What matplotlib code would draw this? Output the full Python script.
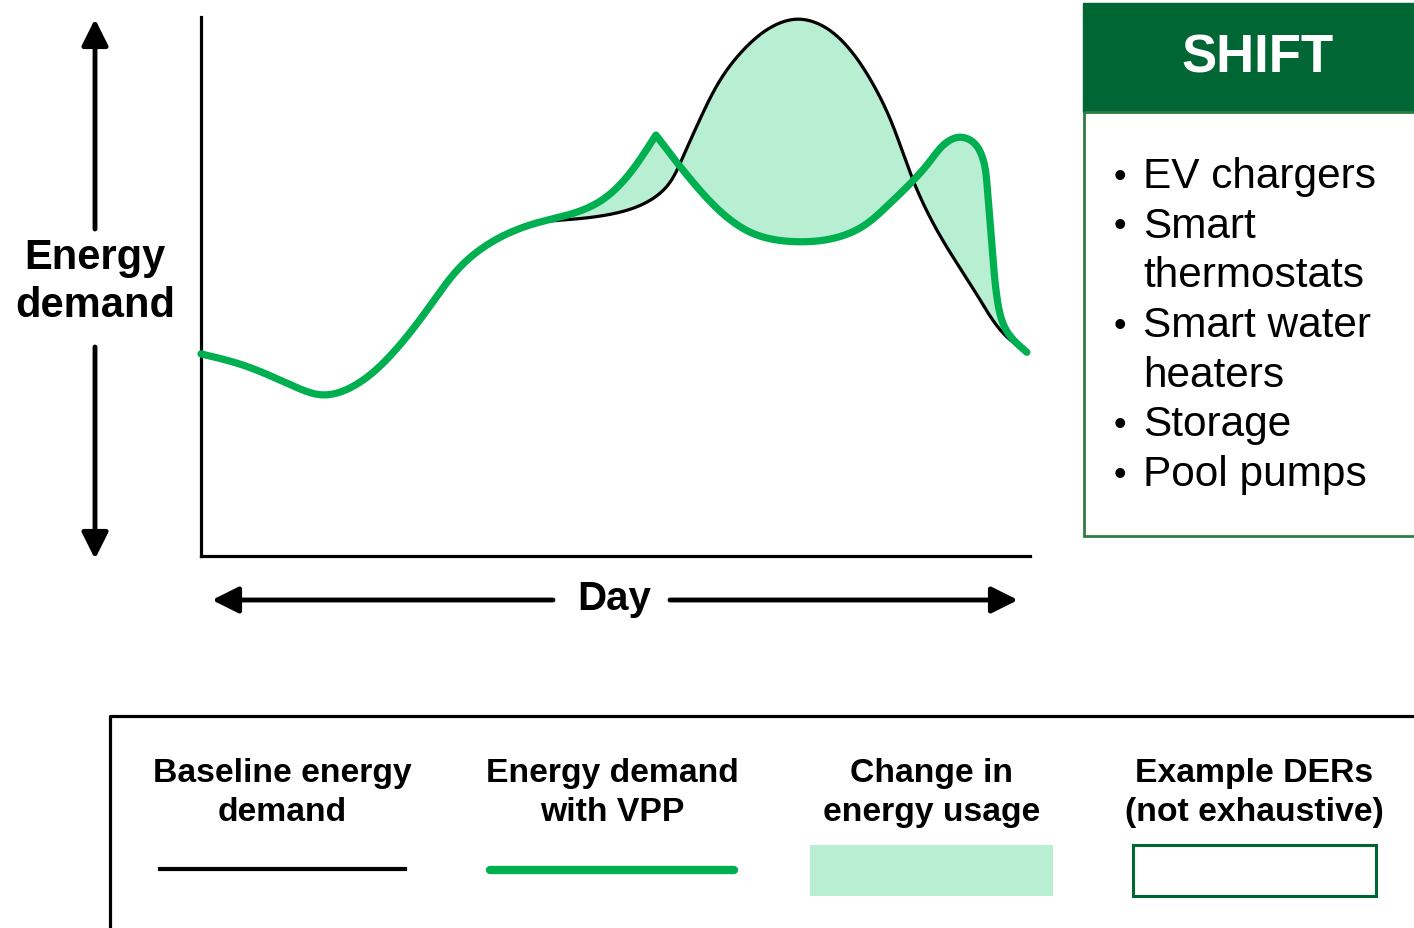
import numpy as np
import matplotlib
matplotlib.use('Agg')
import matplotlib.pyplot as plt
from matplotlib.patches import Rectangle

plt.rcParams['font.family'] = ['Liberation Sans', 'DejaVu Sans']

# curve points (hour of day, demand in % of axis height)
baseline_hours = [0.0, 1.27, 2.72, 3.50, 4.66, 5.47, 6.63, 7.56, 8.51, 9.67, 10.60, 11.93,
                  12.80, 13.49, 13.93, 14.45, 15.11, 15.81, 16.56, 17.28, 18.01, 18.70,
                  19.37, 19.95, 20.61, 21.48, 22.47, 23.34, 23.91]
baseline_demand = [37.5, 35.3, 31.4, 29.9, 32.5, 37.1, 46.4, 54.0, 58.6, 61.7, 62.4, 63.5,
                   65.3, 68.6, 73.7, 81.1, 89.1, 94.6, 98.3, 99.6, 98.3, 94.6,
                   88.5, 81.1, 69.8, 58.5, 48.4, 40.6, 37.8]

vpp_hours = [0.0, 1.27, 2.72, 3.50, 4.66, 5.47, 6.63, 7.56, 8.51, 9.67, 10.97, 11.55,
             12.51, 12.95, 13.17, 13.42, 13.78, 14.45, 15.40, 15.89, 17.34, 18.21, 19.17,
             19.86, 20.58, 21.11, 21.60, 21.97, 22.35, 22.61, 22.76, 22.84, 22.93, 23.05,
             23.34, 23.91]
vpp_demand = [37.5, 35.3, 31.4, 29.9, 32.5, 37.1, 46.4, 54.0, 58.6, 61.7, 64.0, 65.8,
              71.8, 75.9, 78.1, 76.0, 73.0, 67.8, 62.0, 60.1, 58.3, 58.8, 61.2,
              64.9, 69.4, 73.3, 76.8, 77.7, 76.8, 74.2, 68.6, 62.5, 55.1, 47.7,
              41.6, 37.8]
vpp_cusp_hour = 13.17  # sharp peak of the shifted curve

legend_labels = ['Baseline energy\ndemand', 'Energy demand\nwith VPP',
                 'Change in\nenergy usage', 'Example DERs\n(not exhaustive)']
box_title = 'SHIFT'
der_items = ['EV chargers', 'Smart\nthermostats', 'Smart water\nheaters', 'Storage', 'Pool pumps']

GREEN = '#00B050'
LIGHT = '#B8EED2'
DARK = '#006633'


def spline(x, y, xs):
    # natural cubic spline
    x = np.asarray(x, float)
    y = np.asarray(y, float)
    n = len(x)
    h = np.diff(x)
    A = np.zeros((n, n))
    r = np.zeros(n)
    A[0, 0] = A[-1, -1] = 1
    for k in range(1, n - 1):
        A[k, k - 1] = h[k - 1]
        A[k, k] = 2 * (h[k - 1] + h[k])
        A[k, k + 1] = h[k]
        r[k] = 6 * ((y[k + 1] - y[k]) / h[k] - (y[k] - y[k - 1]) / h[k - 1])
    M = np.linalg.solve(A, r)
    i = np.clip(np.searchsorted(x, xs) - 1, 0, n - 2)
    t = xs - x[i]
    a = (M[i + 1] - M[i]) / (6 * h[i])
    b = M[i] / 2
    c = (y[i + 1] - y[i]) / h[i] - h[i] * (2 * M[i] + M[i + 1]) / 6
    return y[i] + c * t + b * t**2 + a * t**3


def curve(x, y, sx, sy, n=1000):
    # parametric spline through the read points, chord length measured on screen
    x = np.asarray(x, float)
    y = np.asarray(y, float)
    t = np.r_[0, np.cumsum(np.hypot(np.diff(x) * sx, np.diff(y) * sy))]
    ts = np.linspace(0, t[-1], n)
    return spline(t, x, ts), spline(t, y, ts)


W, H = 1414, 929
fig = plt.figure(figsize=(W / 100, H / 100), dpi=100)

# overlay in pixel coordinates for the decorations
ov = fig.add_axes([0, 0, 1, 1])
ov.set_xlim(0, W)
ov.set_ylim(H, 0)
ov.axis('off')

# main chart
ax_w, ax_h = 829, 539
ax = fig.add_axes([201 / W, 1 - 557 / H, ax_w / W, ax_h / H], facecolor='none')
ax.set_xlim(0, 24)
ax.set_ylim(0, 100)
for s in ['top', 'right']:
    ax.spines[s].set_visible(False)
for s in ['left', 'bottom']:
    ax.spines[s].set_linewidth(2.3)
ax.set_xticks([])
ax.set_yticks([])

sx, sy = ax_w / 24, ax_h / 100
bx, by = curve(baseline_hours, baseline_demand, sx, sy)
c = vpp_hours.index(vpp_cusp_hour)
v1x, v1y = curve(vpp_hours[:c + 1], vpp_demand[:c + 1], sx, sy)
v2x, v2y = curve(vpp_hours[c:], vpp_demand[c:], sx, sy)
vx = np.r_[v1x, v2x[1:]]
vy = np.r_[v1y, v2y[1:]]

ax.fill(np.r_[bx, vx[::-1]], np.r_[by, vy[::-1]], color=LIGHT, lw=0, zorder=1)
ax.plot(bx, by, color='black', lw=2.3, zorder=2, clip_on=False)
ax.plot(vx, vy, color=GREEN, lw=5.2, zorder=3, clip_on=False,
        solid_capstyle='round', solid_joinstyle='round')

# axis arrows
arw = dict(arrowstyle='-|>', lw=3.5, color='black', mutation_scale=40, shrinkA=0, shrinkB=0)
ov.annotate('', xy=(95, 20), xytext=(95, 230), arrowprops=arw)
ov.annotate('', xy=(95, 560), xytext=(95, 348), arrowprops=arw)
ov.text(95, 282, 'Energy\ndemand', ha='center', va='center', fontsize=30,
        fontweight='bold', linespacing=1.27)
ov.annotate('', xy=(212, 601), xytext=(553, 601), arrowprops=arw)
ov.annotate('', xy=(1018, 601), xytext=(670, 601), arrowprops=arw)
ov.text(614, 599, 'Day', ha='center', va='center', fontsize=29, fontweight='bold')

# SHIFT box
ov.add_patch(Rectangle((1083, 4), 340, 109, facecolor=DARK, edgecolor=DARK, lw=1))
ov.add_patch(Rectangle((1084, 113), 340, 424, facecolor='none', edgecolor='#2E7D45', lw=2))
ov.text(1258, 58, box_title, ha='center', va='center', fontsize=38,
        fontweight='bold', color='white')
y = 177
for item in der_items:
    lines = item.split('\n')
    ov.text(1120, y, '\u2022', ha='center', va='center', fontsize=26)
    for ln in lines:
        ov.text(1143, y, ln, ha='left', va='center', fontsize=30.5)
        y += 49.7

# legend panel
ov.plot([110, 110, W + 5], [H + 5, 717, 717], color='black', lw=2.3, clip_on=False)
centers = [282, 612, 932, 1254]
for cx, lab in zip(centers, legend_labels):
    ov.text(cx, 793, lab, ha='center', va='center', fontsize=24.3,
            fontweight='bold', linespacing=1.35)
ov.plot([160, 405], [870, 870], color='black', lw=3)
ov.plot([490, 734], [871, 871], color=GREEN, lw=6, solid_capstyle='round')
ov.add_patch(Rectangle((810, 846), 243, 51, facecolor=LIGHT, edgecolor='none'))
ov.add_patch(Rectangle((1133, 846), 243, 51, facecolor='white', edgecolor=DARK, lw=2.2))

fig.savefig('out.png', dpi=100)
